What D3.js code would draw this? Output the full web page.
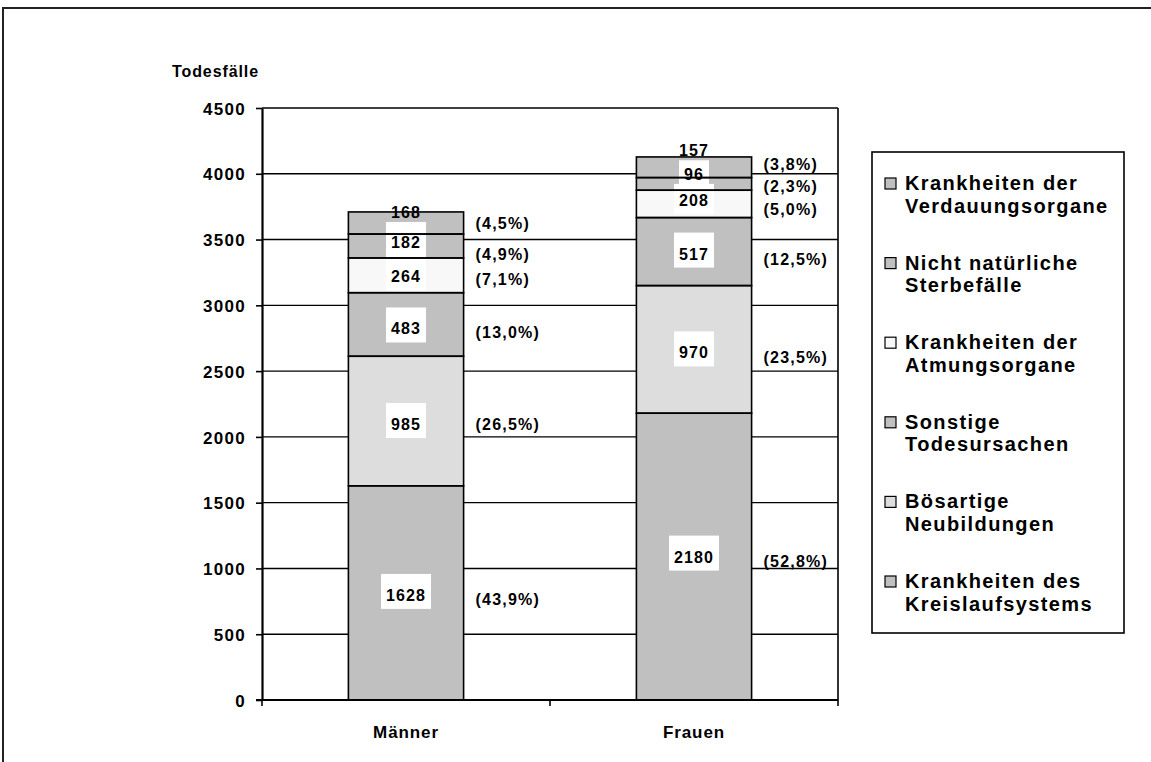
<!DOCTYPE html>
<html lang="de">
<head>
<meta charset="utf-8">
<title>Todesfälle nach Todesursachen</title>
<script src="https://cdn.jsdelivr.net/npm/d3@7"></script>
<style>
  html, body { margin: 0; padding: 0; background: #fff; }
  svg { display: block; }
  text { font-family: "Liberation Sans", Arial, Helvetica, sans-serif; font-weight: bold; fill: #000; }
</style>
</head>
<body>
<svg id="chart" width="1151" height="762"></svg>
<script>
// ---- data ----
const categories = ["Männer", "Frauen"];
// causes of death, stacked from the bottom of each bar upwards
const causes = [
  "Krankheiten des Kreislaufsystems",
  "Bösartige Neubildungen",
  "Sonstige Todesursachen",
  "Krankheiten der Atmungsorgane",
  "Nicht natürliche Sterbefälle",
  "Krankheiten der Verdauungsorgane"
];
const legendLines = [
  ["Krankheiten des", "Kreislaufsystems"],
  ["Bösartige", "Neubildungen"],
  ["Sonstige", "Todesursachen"],
  ["Krankheiten der", "Atmungsorgane"],
  ["Nicht natürliche", "Sterbefälle"],
  ["Krankheiten der", "Verdauungsorgane"]
];
const maenner = [1628, 985, 483, 264, 182, 168];
const frauen  = [2180, 970, 517, 208, 96, 157];
const yTicks = [0, 500, 1000, 1500, 2000, 2500, 3000, 3500, 4000, 4500];
const yTitle = "Todesfälle";

// ---- styling / layout ----
const fills = ["#c0c0c0", "#dddddd", "#c0c0c0", "#f8f8f8", "#c0c0c0", "#c0c0c0"];
// small vertical shifts (px) that keep the labels of thin segments apart
const valueNudge = { "Männer": [2, 3, 4, 1, -4, -11], "Frauen": [0, 3, 2, -4, -10, -17] };
const pctNudge   = { "Männer": [6, 3, 8, 4, 8, 0],    "Frauen": [4, 8, 7, 5, 2, -3] };

const plot = { left: 262, right: 838, top: 108, bottom: 700 };

const svg = d3.select("#chart");

// rows for d3.stack
const rows = categories.map((c, i) => {
  const src = i === 0 ? maenner : frauen;
  const row = { category: c };
  causes.forEach((k, j) => { row[k] = src[j]; });
  return row;
});
const series = d3.stack().keys(causes)(rows);
const totals = rows.map(r => d3.sum(causes, k => r[k]));

const x = d3.scaleBand().domain(categories)
  .range([plot.left, plot.right]).paddingInner(0.6).paddingOuter(0.3);
const y = d3.scaleLinear().domain([0, 4500]).range([plot.bottom, plot.top]);

// outer frame
svg.append("rect")
  .attr("x", 3).attr("y", 8).attr("width", 1170).attr("height", 780)
  .attr("fill", "none").attr("stroke", "#222").attr("stroke-width", 2);

// gridlines
svg.append("g").selectAll("line").data(yTicks.filter(t => t > 0)).join("line")
  .attr("x1", plot.left).attr("x2", plot.right)
  .attr("y1", d => y(d)).attr("y2", d => y(d))
  .attr("stroke", "#000").attr("stroke-width", 1.4);

// plot area right edge
svg.append("line")
  .attr("x1", plot.right).attr("x2", plot.right)
  .attr("y1", plot.top).attr("y2", plot.bottom)
  .attr("stroke", "#000").attr("stroke-width", 1.6);

// bar fills
const segGroups = svg.append("g").selectAll("g").data(series).join("g")
  .attr("fill", (d, i) => fills[i]);
segGroups.selectAll("rect").data(d => d).join("rect")
  .attr("x", d => x(d.data.category))
  .attr("width", x.bandwidth())
  .attr("y", d => y(d[1]))
  .attr("height", d => y(d[0]) - y(d[1]));

// value labels: centres
const labelInfo = [];
categories.forEach((c, ci) => {
  series.forEach((s, si) => {
    const d = s[ci];
    const mid = (y(d[0]) + y(d[1])) / 2;
    labelInfo.push({
      category: c, index: si, value: d.data[s.key],
      vCenter: mid + valueNudge[c][si],
      pCenter: mid + pctNudge[c][si],
      total: totals[ci]
    });
  });
});

const boxLayer = svg.append("g");
const outlineLayer = svg.append("g");
const textLayer = svg.append("g");

labelInfo.forEach(l => {
  const cx = x(l.category) + x.bandwidth() / 2;
  const t = textLayer.append("text")
    .attr("x", cx).attr("y", l.vCenter + 6)
    .attr("text-anchor", "middle")
    .style("font-size", "16px").style("letter-spacing", "1.1px")
    .text(l.value);
  if (l.index < causes.length - 1) {
    const w = t.node().getComputedTextLength() + 10;
    const upper = labelInfo.find(o => o.category === l.category && o.index === l.index + 1);
    const top = Math.max(l.vCenter - 21, upper.vCenter + 10);
    const bottom = l.vCenter + 14;
    boxLayer.append("rect")
      .attr("x", cx - w / 2).attr("width", w)
      .attr("y", top).attr("height", bottom - top)
      .attr("fill", "#fff");
  }
  // share of the bar total
  const pct = (l.value / l.total * 100).toFixed(1).replace(".", ",");
  textLayer.append("text")
    .attr("x", x(l.category) + x.bandwidth() + 12)
    .attr("y", l.pCenter + 6)
    .style("font-size", "16px").style("letter-spacing", "1.2px")
    .text(`(${pct}%)`);
});

// bar outlines above the label backings
outlineLayer.selectAll("g").data(series).join("g")
  .selectAll("rect").data(d => d).join("rect")
  .attr("x", d => x(d.data.category))
  .attr("width", x.bandwidth())
  .attr("y", d => y(d[1]))
  .attr("height", d => y(d[0]) - y(d[1]))
  .attr("fill", "none").attr("stroke", "#000").attr("stroke-width", 1.6);

// y axis
const yAxis = svg.append("g")
  .attr("transform", `translate(${plot.left},0)`)
  .call(d3.axisLeft(y).tickValues(yTicks).tickFormat(d3.format("d"))
    .tickSize(6).tickSizeOuter(0).tickPadding(10));
yAxis.select(".domain").attr("stroke", "#000").attr("stroke-width", 2.2);
yAxis.selectAll(".tick line").attr("stroke", "#000").attr("stroke-width", 1.6);
yAxis.selectAll(".tick text")
  .style("font-size", "17px").style("letter-spacing", "1.3px")
  .attr("font-family", null).attr("dy", "0.36em");

// x axis: labels at band centres, ticks at band boundaries
const xAxis = svg.append("g")
  .attr("transform", `translate(0,${plot.bottom})`)
  .call(d3.axisBottom(x).tickSize(0).tickPadding(26));
xAxis.select(".domain").remove();
xAxis.selectAll(".tick text")
  .style("font-size", "17px").style("letter-spacing", "0.9px")
  .attr("font-family", null);
svg.append("line")
  .attr("x1", plot.left - 6).attr("x2", plot.right)
  .attr("y1", plot.bottom).attr("y2", plot.bottom)
  .attr("stroke", "#000").attr("stroke-width", 2.2);
const bounds = [x.range()[0], ...categories.slice(1).map(c => x(c) - x.step() * x.paddingInner() / 2), x.range()[1]];
svg.append("g").selectAll("line").data(bounds).join("line")
  .attr("x1", d => d).attr("x2", d => d)
  .attr("y1", plot.bottom).attr("y2", plot.bottom + 6)
  .attr("stroke", "#000").attr("stroke-width", 1.6);

// axis title
svg.append("text")
  .attr("x", 172).attr("y", 77)
  .style("font-size", "16px").style("letter-spacing", "0.9px")
  .text(yTitle);

// legend, top entry = top of the stack
const legend = svg.append("g");
legend.append("rect")
  .attr("x", 872).attr("y", 152).attr("width", 252).attr("height", 481)
  .attr("fill", "#fff").attr("stroke", "#000").attr("stroke-width", 1.6);
const order = d3.range(causes.length).reverse();
order.forEach((ci, row) => {
  const base = 190 + row * 79.6;
  legend.append("rect")
    .attr("x", 885).attr("y", base - 12).attr("width", 11).attr("height", 11)
    .attr("fill", fills[ci]).attr("stroke", "#000").attr("stroke-width", 1.2);
  legendLines[ci].forEach((line, li) => {
    legend.append("text")
      .attr("x", 905).attr("y", base + li * 22.5)
      .style("font-size", "20px").style("letter-spacing", "1.4px")
      .text(line);
  });
});
</script>
</body>
</html>
